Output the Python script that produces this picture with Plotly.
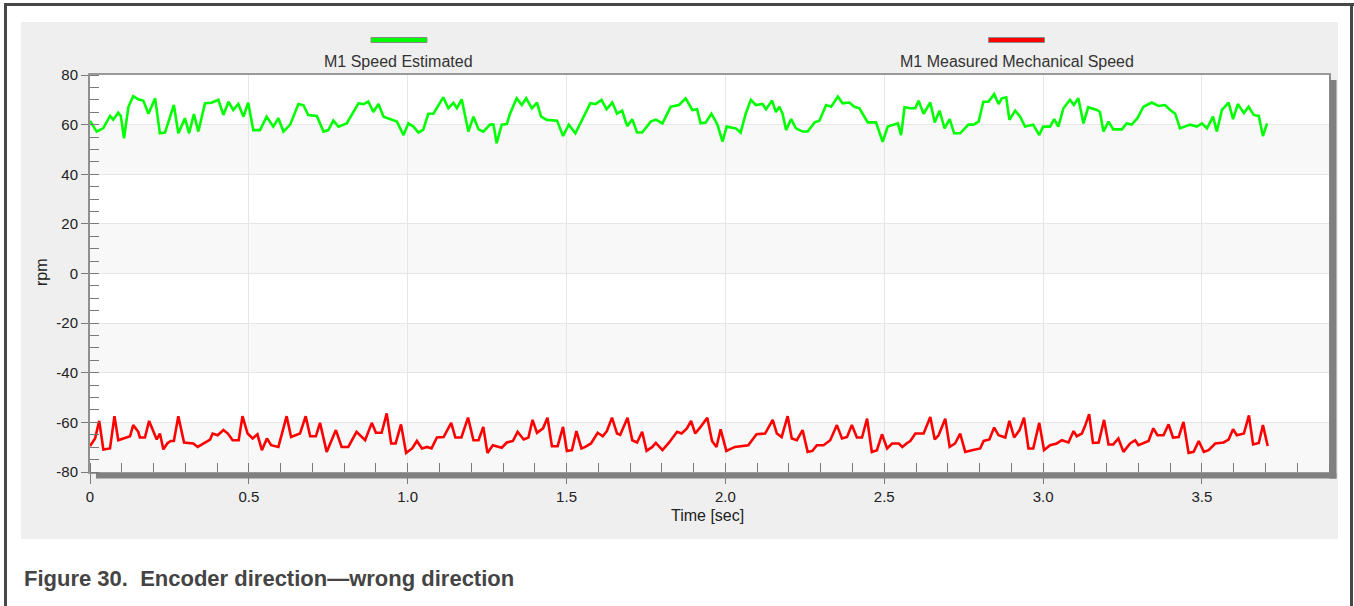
import plotly.graph_objects as go

# ---------------- data ----------------
green_t = [0.000, 0.021, 0.042, 0.063, 0.073, 0.089, 0.097, 0.107, 0.121, 0.136, 0.152, 0.168, 0.184, 0.205,
           0.220, 0.236, 0.264, 0.278, 0.299, 0.312, 0.327, 0.341, 0.362, 0.383, 0.404, 0.420, 0.436, 0.451,
           0.467, 0.483, 0.498, 0.514, 0.535, 0.556, 0.577, 0.593, 0.609, 0.630, 0.656, 0.672, 0.687, 0.714,
           0.735, 0.750, 0.766, 0.782, 0.808, 0.845, 0.861, 0.876, 0.892, 0.908, 0.924, 0.945, 0.966, 0.987,
           1.002, 1.018, 1.034, 1.049, 1.065, 1.081, 1.112, 1.128, 1.144, 1.155, 1.170, 1.191, 1.207, 1.223,
           1.238, 1.259, 1.270, 1.280, 1.296, 1.312, 1.322, 1.343, 1.359, 1.373, 1.391, 1.407, 1.420, 1.438,
           1.470, 1.489, 1.507, 1.528, 1.554, 1.575, 1.591, 1.610, 1.626, 1.644, 1.659, 1.675, 1.691, 1.707,
           1.722, 1.738, 1.765, 1.781, 1.802, 1.828, 1.854, 1.875, 1.896, 1.911, 1.922, 1.938, 1.956, 1.975,
           1.991, 2.004, 2.033, 2.048, 2.064, 2.080, 2.096, 2.117, 2.128, 2.147, 2.159, 2.170, 2.180, 2.191,
           2.207, 2.222, 2.243, 2.259, 2.281, 2.296, 2.317, 2.333, 2.354, 2.369, 2.390, 2.406, 2.422, 2.448,
           2.474, 2.495, 2.511, 2.532, 2.543, 2.553, 2.564, 2.582, 2.598, 2.608, 2.624, 2.645, 2.659, 2.674,
           2.690, 2.706, 2.720, 2.739, 2.765, 2.781, 2.797, 2.812, 2.828, 2.846, 2.860, 2.870, 2.884, 2.894,
           2.912, 2.928, 2.943, 2.969, 2.988, 3.000, 3.022, 3.035, 3.048, 3.064, 3.085, 3.097, 3.111, 3.127,
           3.142, 3.169, 3.179, 3.190, 3.206, 3.221, 3.248, 3.263, 3.279, 3.297, 3.316, 3.342, 3.363, 3.384,
           3.400, 3.416, 3.431, 3.463, 3.484, 3.500, 3.516, 3.535, 3.547, 3.563, 3.584, 3.598, 3.613, 3.632,
           3.647, 3.663, 3.679, 3.692, 3.705]
green_v = [61.5, 57.2, 58.6, 63.5, 62.0, 64.8, 63.5, 54.5, 67.2, 71.5, 70.2, 69.6, 64.4, 70.6,
           56.5, 56.8, 67.9, 56.5, 62.6, 56.5, 64.3, 57.2, 68.6, 68.8, 70.0, 63.9, 69.2, 65.9,
           68.3, 63.2, 68.8, 57.8, 57.8, 63.2, 59.2, 62.6, 57.2, 60.0, 68.3, 67.8, 63.9, 63.5,
           57.2, 57.8, 61.6, 59.2, 60.5, 68.6, 68.3, 69.3, 65.1, 68.3, 63.2, 62.2, 61.2, 55.8,
           60.5, 59.2, 56.8, 58.0, 64.4, 64.4, 71.0, 66.6, 68.8, 66.6, 70.2, 57.2, 63.2, 58.1,
           57.2, 60.0, 60.0, 52.5, 60.0, 60.2, 64.4, 70.6, 67.9, 70.6, 66.6, 68.9, 63.2, 61.9,
           61.6, 55.4, 60.0, 56.5, 63.2, 68.6, 68.3, 70.0, 66.2, 68.9, 64.4, 65.6, 59.4, 62.1,
           56.8, 56.8, 61.2, 62.0, 60.5, 67.2, 67.9, 70.6, 65.9, 66.2, 60.5, 60.8, 64.4, 60.0,
           53.1, 59.2, 58.5, 56.8, 64.4, 70.0, 67.9, 68.3, 66.2, 69.7, 65.1, 67.2, 64.4, 57.8,
           62.2, 58.5, 57.2, 57.2, 60.9, 61.6, 67.9, 67.2, 71.3, 68.6, 68.9, 67.2, 66.6, 60.9,
           60.9, 53.1, 59.2, 60.0, 60.5, 55.8, 67.0, 66.6, 66.6, 69.6, 64.4, 68.9, 60.9, 65.6,
           58.5, 62.2, 56.5, 56.5, 60.0, 60.0, 61.2, 69.2, 69.2, 72.3, 68.3, 70.6, 71.0, 61.9,
           65.6, 63.2, 59.2, 60.0, 55.8, 59.2, 59.2, 62.2, 59.2, 66.6, 70.0, 67.9, 70.6, 60.5,
           67.0, 65.9, 65.1, 57.2, 61.2, 58.1, 58.1, 60.5, 60.0, 62.6, 67.2, 68.9, 67.5, 67.9,
           65.9, 64.4, 58.5, 60.0, 59.2, 60.5, 58.5, 63.2, 57.2, 65.9, 68.9, 62.2, 68.3, 64.7,
           67.2, 63.9, 63.5, 55.4, 60.5]

red_t = [0.000, 0.016, 0.029, 0.042, 0.063, 0.077, 0.089, 0.115, 0.126, 0.136, 0.152, 0.157, 0.173, 0.186,
         0.201, 0.210, 0.220, 0.231, 0.243, 0.254, 0.264, 0.278, 0.296, 0.325, 0.339, 0.360, 0.378, 0.386,
         0.402, 0.420, 0.434, 0.449, 0.468, 0.480, 0.496, 0.512, 0.527, 0.541, 0.557, 0.570, 0.593, 0.619,
         0.633, 0.661, 0.679, 0.693, 0.711, 0.724, 0.745, 0.774, 0.792, 0.813, 0.839, 0.866, 0.887, 0.900,
         0.918, 0.934, 0.948, 0.962, 0.979, 0.995, 1.014, 1.029, 1.045, 1.061, 1.075, 1.092, 1.113, 1.137,
         1.150, 1.169, 1.190, 1.207, 1.223, 1.238, 1.251, 1.268, 1.296, 1.312, 1.331, 1.346, 1.365, 1.380,
         1.393, 1.407, 1.426, 1.440, 1.454, 1.472, 1.489, 1.501, 1.517, 1.531, 1.547, 1.559, 1.577, 1.598,
         1.614, 1.627, 1.643, 1.659, 1.669, 1.692, 1.707, 1.722, 1.738, 1.752, 1.770, 1.781, 1.802, 1.823,
         1.848, 1.862, 1.879, 1.892, 1.905, 1.922, 1.943, 1.958, 1.972, 1.985, 2.003, 2.030, 2.072, 2.098,
         2.125, 2.149, 2.162, 2.177, 2.196, 2.209, 2.225, 2.243, 2.259, 2.274, 2.288, 2.309, 2.330, 2.351,
         2.367, 2.383, 2.398, 2.414, 2.430, 2.446, 2.461, 2.477, 2.493, 2.509, 2.525, 2.546, 2.557, 2.572,
         2.582, 2.598, 2.624, 2.645, 2.659, 2.671, 2.692, 2.706, 2.723, 2.739, 2.755, 2.776, 2.802, 2.813,
         2.831, 2.846, 2.860, 2.881, 2.894, 2.909, 2.926, 2.940, 2.954, 2.969, 2.988, 3.003, 3.022, 3.043,
         3.059, 3.080, 3.096, 3.106, 3.122, 3.132, 3.145, 3.157, 3.175, 3.192, 3.206, 3.221, 3.237, 3.253,
         3.274, 3.290, 3.300, 3.332, 3.347, 3.360, 3.379, 3.395, 3.409, 3.427, 3.442, 3.458, 3.474, 3.490,
         3.506, 3.521, 3.542, 3.568, 3.584, 3.598, 3.610, 3.632, 3.648, 3.661, 3.679, 3.692, 3.707]
red_v = [-69.5, -66.5, -59.4, -70.9, -70.5, -57.5, -67.2, -66.1, -65.6, -61.1, -63.8, -66.1, -66.1, -59.4,
         -64.5, -66.9, -64.5, -70.9, -68.5, -67.5, -67.5, -57.5, -68.1, -68.5, -69.9, -68.3, -66.9, -64.5,
         -65.2, -63.1, -64.5, -67.2, -67.2, -57.5, -64.5, -66.5, -64.8, -71.2, -66.5, -69.2, -69.9, -57.5,
         -65.9, -64.5, -57.5, -65.6, -65.6, -60.2, -71.9, -63.1, -69.9, -69.9, -63.8, -67.2, -60.2, -64.2,
         -64.2, -56.4, -68.5, -68.5, -60.8, -72.3, -70.5, -67.5, -70.5, -69.9, -70.5, -66.1, -65.9, -60.2,
         -66.1, -66.1, -58.1, -67.2, -67.2, -61.8, -72.3, -69.2, -70.2, -68.1, -67.5, -63.8, -66.9, -66.1,
         -59.0, -64.2, -62.4, -58.1, -69.6, -69.6, -61.8, -71.5, -71.2, -63.5, -70.5, -69.9, -68.5, -64.2,
         -65.6, -63.5, -58.1, -64.5, -65.0, -58.1, -67.2, -68.1, -63.8, -71.5, -69.9, -68.3, -71.2, -68.1,
         -63.8, -64.5, -62.4, -59.4, -64.5, -61.8, -58.1, -67.5, -69.9, -62.8, -71.5, -69.9, -69.2, -64.8,
         -64.5, -59.0, -64.5, -65.9, -57.5, -66.5, -67.2, -63.1, -71.9, -71.5, -69.2, -69.2, -67.2, -61.1,
         -66.5, -65.9, -61.1, -66.1, -66.1, -58.5, -71.9, -71.2, -64.8, -70.5, -68.5, -68.5, -69.9, -68.3,
         -67.5, -64.5, -64.5, -57.8, -66.9, -65.2, -58.5, -69.9, -68.5, -64.5, -71.9, -71.2, -70.5, -67.5,
         -66.9, -62.1, -65.2, -66.1, -59.4, -66.1, -63.1, -58.1, -70.5, -70.5, -60.2, -71.2, -69.2, -68.5,
         -67.2, -68.1, -63.5, -65.6, -64.5, -61.5, -56.7, -68.3, -68.1, -59.0, -68.9, -68.9, -66.5, -71.9,
         -68.5, -67.2, -69.2, -67.5, -62.4, -65.2, -65.2, -60.8, -66.1, -65.9, -59.8, -72.3, -71.9, -67.5,
         -71.9, -71.2, -68.5, -68.1, -66.9, -62.8, -65.2, -64.5, -57.2, -68.9, -68.3, -61.1, -69.5]

series_names = ["M1 Speed Estimated", "M1 Measured Mechanical Speed"]
x_tickvals = [0, 0.5, 1.0, 1.5, 2.0, 2.5, 3.0, 3.5]
x_ticktext = ["0", "0.5", "1.0", "1.5", "2.0", "2.5", "3.0", "3.5"]
y_tickvals = [80, 60, 40, 20, 0, -20, -40, -60, -80]
y_ticktext = ["80", "60", "40", "20", "0", "-20", "-40", "-60", "-80"]
x_title = "Time [sec]"
y_title = "rpm"
caption = "Figure 30.  Encoder direction\u2014wrong direction"

# ---------------- layout geometry (pixels) ----------------
W, H = 1354, 606
ML, MR, MT, MB = 90, 25, 75, 134
PW, PH = W - ML - MR, H - MT - MB


def px(x):
    return (x - ML) / PW


def py(y):
    return (H - MB - y) / PH


GREEN = "#00ff00"
RED = "#ff0000"
FONT = "Liberation Sans, Arial, sans-serif"

fig = go.Figure()
fig.add_trace(go.Scatter(x=green_t, y=green_v, mode="lines", name=series_names[0],
                         line=dict(color=GREEN, width=2.6), showlegend=False))
fig.add_trace(go.Scatter(x=red_t, y=red_v, mode="lines", name=series_names[1],
                         line=dict(color=RED, width=2.6), showlegend=False))


def prect(x0, y0, x1, y1, fill, layer="below", line=None):
    return dict(type="rect", xref="paper", yref="paper", x0=px(x0), x1=px(x1), y0=py(y1), y1=py(y0),
                fillcolor=fill, line=line or dict(width=0), layer=layer)


shapes = []
# outer grey panel
shapes.append(prect(21, 22, 1338, 539, "#efefef"))
# white plotting area
shapes.append(dict(type="rect", xref="paper", yref="paper", x0=0, x1=1, y0=0, y1=1,
                   fillcolor="white", line=dict(width=0), layer="below"))
# alternating shaded bands between major y ticks
ys = sorted(y_tickvals)
for i in range(0, len(ys) - 1, 2):
    shapes.append(dict(type="rect", xref="paper", yref="y", x0=0, x1=1, y0=ys[i], y1=ys[i + 1],
                       fillcolor="#f8f8f8", line=dict(width=0), layer="below"))
# outer dark frame (left, top, right) as thin filled strips
shapes.append(prect(4, 3, 7, 606, "#474747", "above"))
shapes.append(prect(4, 3, 1354, 6, "#474747", "above"))
shapes.append(prect(1350, 3, 1353, 606, "#474747", "above"))
# drop shadow right and bottom
shapes.append(prect(1329.5, 80, 1336.5, 478.5, "#808080", "above"))
shapes.append(prect(96, 473, 1336.5, 478.5, "#808080", "above"))
# legend samples
for cx, col in [(399, GREEN), (1016.5, RED)]:
    shapes.append(prect(cx - 28, 37.5, cx + 28, 42.5, col, "above", dict(color="#8a8a8a", width=1)))

annotations = [
    dict(text=series_names[0], x=px(398), y=py(61), xref="paper", yref="paper", showarrow=False,
         xanchor="center", yanchor="middle", font=dict(family=FONT, size=16, color="#333333")),
    dict(text=series_names[1], x=px(1016.5), y=py(61), xref="paper", yref="paper", showarrow=False,
         xanchor="center", yanchor="middle", font=dict(family=FONT, size=16, color="#333333")),
    dict(text=x_title, x=px(707), y=py(515), xref="paper", yref="paper", showarrow=False,
         xanchor="center", yanchor="middle", font=dict(family=FONT, size=16, color="#222222")),
    dict(text=y_title, x=px(41), y=py(272), xref="paper", yref="paper", showarrow=False, textangle=-90,
         xanchor="center", yanchor="middle", font=dict(family=FONT, size=16, color="#222222")),
    dict(text="<b>" + caption + "</b>", x=px(22), y=py(578), xref="paper", yref="paper", showarrow=False,
         xanchor="left", yanchor="middle", font=dict(family=FONT, size=22, color="#444444")),
]

fig.update_layout(
    width=W, height=H,
    margin=dict(l=ML, r=MR, t=MT, b=MB, pad=0),
    paper_bgcolor="white", plot_bgcolor="white",
    shapes=shapes, annotations=annotations,
    showlegend=False,
    font=dict(family=FONT, size=15, color="#222222"),
)
fig.update_xaxes(
    range=[0, 3.9], tickmode="array", tickvals=x_tickvals, ticktext=x_ticktext,
    ticks="outside", ticklen=10, tickcolor="#7a7a7a", tickwidth=1.3,
    showgrid=True, gridcolor="#e6e6e6", gridwidth=1, zeroline=False,
    showline=True, linecolor="#999999", linewidth=1.5, mirror=True,
    tickfont=dict(family=FONT, size=15, color="#222222"),
    minor=dict(tickmode="linear", tick0=0, dtick=0.1, ticks="inside", ticklen=9,
               tickcolor="#7a7a7a", tickwidth=1.3, showgrid=False),
)
fig.update_yaxes(
    range=[-80, 80], tickmode="array", tickvals=y_tickvals, ticktext=y_ticktext,
    ticks="outside", ticklen=7, tickcolor="#7a7a7a", tickwidth=1.3,
    showgrid=True, gridcolor="#e6e6e6", gridwidth=1, zeroline=False,
    showline=True, linecolor="#8f8f8f", linewidth=2, mirror=True,
    tickfont=dict(family=FONT, size=15, color="#222222"),
    minor=dict(tickmode="linear", tick0=0, dtick=5, ticks="inside", ticklen=9,
               tickcolor="#7a7a7a", tickwidth=1.3, showgrid=False),
)

fig.write_html("out.html", config={"displayModeBar": False},
               post_script="document.body.style.margin='0px';document.body.style.overflow='hidden';")
